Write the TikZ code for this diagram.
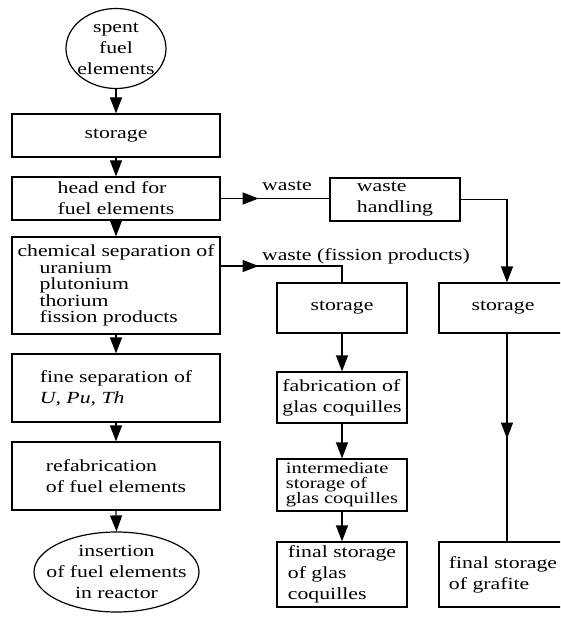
\documentclass[tikz,border=0pt]{standalone}
\usepackage{fontspec}
\setmainfont{Liberation Serif}[FakeStretch=1.28]
\usetikzlibrary{arrows.meta,shapes.geometric,decorations.markings}
\begin{document}
\begin{tikzpicture}[x=1pt,y=-1pt,line width=1.2pt,
  txt/.style={font=\fontsize{17pt}{21pt}\selectfont},
  box/.style={draw,rectangle,align=left,inner sep=0pt,txt},
  ell/.style={draw,ellipse,inner sep=0pt},
  arr/.style={-{Triangle[length=16pt,width=12pt]}},
  midarr/.style={postaction={decorate},decoration={markings,
     mark=at position #1 with {\arrow{Triangle[length=16pt,width=12pt]}}}}]
\useasboundingbox (0,0) rectangle (560,617);
\clip (0,0) rectangle (560,617);
% left column
\node[ell,minimum width=100pt,minimum height=80pt,
  label={[txt,align=center]center:spent\\fuel\\elements}] (spent) at (116,48.5) {};
\node[box,minimum width=208pt,minimum height=43pt] (stor1) at (116,135.5) {storage};
\node[box,minimum width=208pt,minimum height=43pt] (head) at (116,198.5) {head end for\\fuel elements};
\node[box,minimum width=208pt,minimum height=97pt,font=\fontsize{17pt}{16.5pt}\selectfont] (chem) at (116,285.5)
  {chemical separation of\\\hspace*{22pt}uranium\\\hspace*{22pt}plutonium\\\hspace*{22pt}thorium\\\hspace*{22pt}fission products};
\node[box,minimum width=208pt,minimum height=68pt] (fine) at (116,388) {fine separation of\\\textit{U, Pu, Th}};
\node[box,minimum width=208pt,minimum height=68pt] (refab) at (116,476) {refabrication\\of fuel elements};
\node[ell,minimum width=165pt,minimum height=80pt,
  label={[txt,align=center]center:insertion\\of fuel elements\\in reactor}] (ins) at (116.5,572) {};
% middle / right
\node[box,minimum width=130pt,minimum height=43pt] (wh) at (395,199.5) {waste\\handling};
\node[box,minimum width=130pt,minimum height=50pt] (stor2) at (342,308) {storage};
\node[box,minimum width=128pt,minimum height=50pt] (stor3) at (503,308) {storage};
\node[box,minimum width=130pt,minimum height=51pt] (fab) at (342,397.5) {fabrication of\\glas coquilles};
\node[box,minimum width=130pt,minimum height=52pt,font=\fontsize{16pt}{15pt}\selectfont] (inter) at (342,485) {intermediate\\storage of\\glas coquilles};
\node[box,minimum width=130pt,minimum height=65pt] (fin1) at (342,574.5) {final storage\\of glas\\coquilles};
\node[box,minimum width=128pt,minimum height=65pt] (fin2) at (503,574.5) {final storage\\of grafite};
% labels
\node[txt,anchor=base,inner sep=0pt] (lw1) at (287,191) {waste};
\node[txt,anchor=base,inner sep=0pt] (lw2) at (366,260) {waste (fission products)};
% connectors
\draw[arr] (spent.south) -- (stor1.north);
\draw[arr] (stor1.south) -- (head.north);
\draw[arr] (head.south) -- (chem.north);
\draw[arr] (chem.south) -- (fine.north);
\draw[arr] (fine.south) -- (refab.north);
\draw[arr] (refab.south) -- (ins.north);
\draw[midarr=38pt] (head.east) -- (head.east -| wh.west);
\draw[midarr=38pt] ([yshift=19.5pt]chem.east) -| (stor2.north);
\draw[arr] (wh.east) -| ([xshift=4pt]stor3.north);
\draw[arr] (stor2.south) -- (fab.north);
\draw[arr] (fab.south) -- (inter.north);
\draw[arr] (inter.south) -- (fin1.north);
\draw[midarr=105pt] ([xshift=4pt]stor3.south) -- ([xshift=4pt]fin2.north);
\end{tikzpicture}
\end{document}
